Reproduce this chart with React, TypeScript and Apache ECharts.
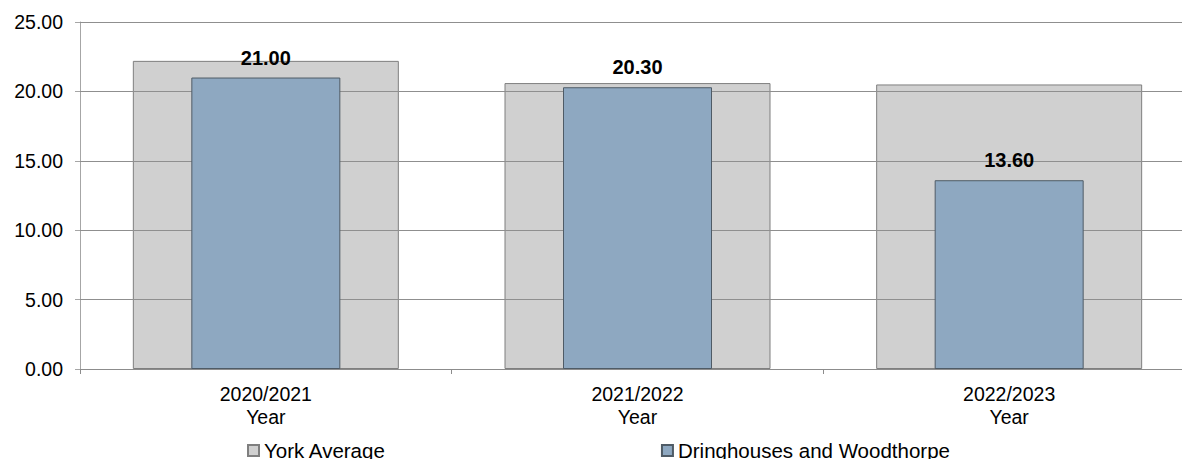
import React, { useEffect, useRef } from "react";
import * as echarts from "echarts";

const categories = ["2020/2021\nYear", "2021/2022\nYear", "2022/2023\nYear"];
const yorkAverage = [22.2, 20.6, 20.5];
const dringhouses = [21.0, 20.3, 13.6];
const seriesNames = ["York Average", "Dringhouses and Woodthorpe"];
const yTicks = { min: 0, max: 25, interval: 5 };
const gridValues = [5, 10, 15, 20, 25];

export default function App() {
  const ref = useRef<HTMLDivElement>(null);
  useEffect(() => {
    if (!ref.current) return;
    const chart = echarts.init(ref.current, undefined, { renderer: "svg" });
    const font = "Arial, 'Liberation Sans', sans-serif";
    chart.setOption({
      animation: false,
      backgroundColor: "#ffffff",
      grid: { left: 80, right: 0, top: 22, bottom: 90, containLabel: false },
      legend: {
        left: 247,
        top: 440,
        padding: 0,
        itemWidth: 11,
        itemHeight: 11,
        itemGap: 275,
        icon: "rect",
        textStyle: { fontFamily: font, fontSize: 20.5, color: "#000" },
        data: seriesNames,
      },
      xAxis: [
        {
          type: "category",
          data: categories,
          axisLine: { lineStyle: { color: "#8c8c8c", width: 1 } },
          axisTick: { show: true, length: 5, lineStyle: { color: "#8c8c8c" } },
          axisLabel: {
            fontFamily: font,
            fontSize: 19.5,
            color: "#000",
            lineHeight: 23,
            margin: 13,
          },
        },
        {
          type: "category",
          data: categories,
          show: false,
          position: "bottom",
        },
      ],
      yAxis: {
        type: "value",
        min: yTicks.min,
        max: yTicks.max,
        interval: yTicks.interval,
        axisLine: { show: true, lineStyle: { color: "#a6a6a6" } },
        axisTick: { show: true, length: 5, lineStyle: { color: "#a6a6a6" } },
        splitLine: { lineStyle: { color: "#8c8c8c", width: 1 } },
        axisLabel: {
          fontFamily: font,
          fontSize: 19.5,
          color: "#000",
          margin: 17,
          formatter: (v: number) => v.toFixed(2),
        },
      },
      series: [
        {
          name: seriesNames[0],
          type: "bar",
          xAxisIndex: 0,
          data: yorkAverage,
          barWidth: 266,
          z: 1,
          itemStyle: {
            color: "#d0d0d0",
            borderColor: "#7f7f7f",
            borderWidth: 1,
          },
          markLine: {
            silent: true,
            symbol: "none",
            z: 5,
            label: { show: false },
            lineStyle: { color: "#8f8f8f", type: "solid", width: 1 },
            emphasis: { disabled: true },
            data: gridValues.map((v) => ({ yAxis: v })),
          },
        },
        {
          name: seriesNames[1],
          type: "bar",
          xAxisIndex: 1,
          data: dringhouses,
          barWidth: 149,
          z: 10,
          itemStyle: {
            color: "#8ea8c1",
            borderColor: "#4f5b66",
            borderWidth: 1,
          },
          label: {
            show: true,
            position: "top",
            distance: 10,
            fontFamily: font,
            fontSize: 20,
            fontWeight: "bold",
            color: "#000",
            formatter: (p: any) => Number(p.value).toFixed(2),
          },
        },
      ],
    });
    return () => chart.dispose();
  }, []);
  return (
    <div style={{ position: "absolute", left: 0, top: 0, width: 1182, height: 459, overflow: "hidden" }}>
      <div ref={ref} style={{ width: 1195, height: 459 }} />
    </div>
  );
}
